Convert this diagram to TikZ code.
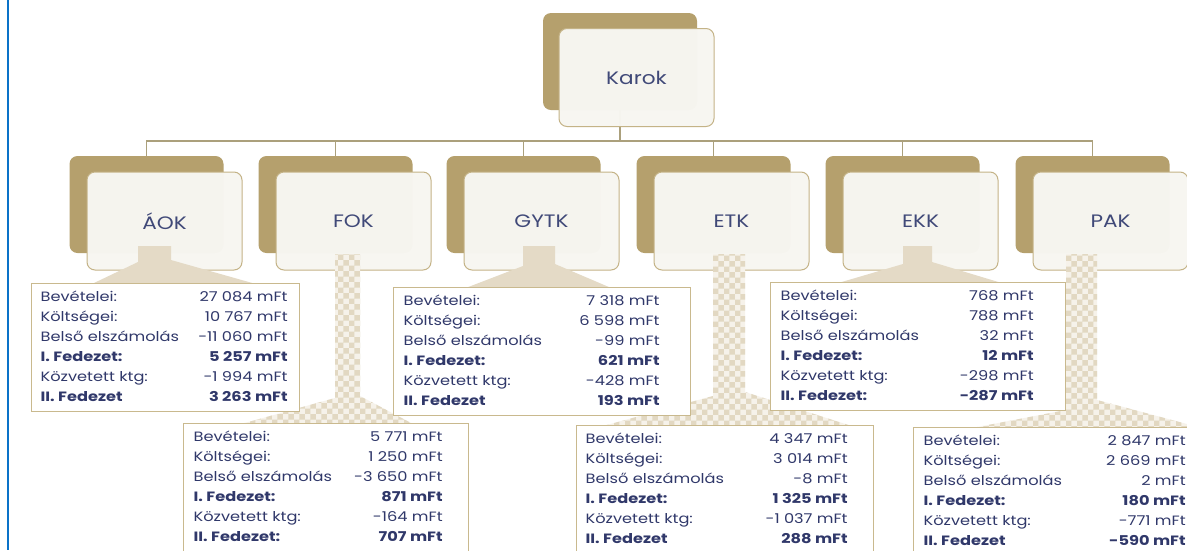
\documentclass[tikz,border=0pt]{standalone}
\usepackage{fontspec}
\setmainfont{Poppins}[FakeStretch=1.2]
\usetikzlibrary{patterns}
\definecolor{gold}{HTML}{B5A06D}
\definecolor{frontfill}{HTML}{F7F6F1}
\definecolor{frontline}{HTML}{C4B387}
\definecolor{busline}{HTML}{ABA07C}
\definecolor{callfill}{HTML}{E4DAC6}
\definecolor{chk}{HTML}{E2D8C2}
\definecolor{chkbase}{HTML}{F6F2EA}
\definecolor{boxline}{HTML}{C9B98E}
\definecolor{navy}{HTML}{30386A}
\definecolor{labnavy}{HTML}{404978}
\definecolor{leftblue}{HTML}{0A72C8}
\newcommand{\statrows}[8]{%
\begin{tabular*}{#1}{@{}l@{\extracolsep{\fill}}r@{}}
Bevételei: & #2\\
Költségei: & #3\\
Belső elszámolás & #4\\
\textbf{I. Fedezet:} & \textbf{#5}\\
Közvetett ktg: & #6\\
\textbf{#7} & \textbf{#8}
\end{tabular*}}
\tikzset{
  darkbox/.style={fill=gold, rounded corners=8pt, minimum width=154pt, minimum height=97pt, inner sep=0pt},
  frontbox/.style={fill=frontfill, fill opacity=0.98, text opacity=1, draw=frontline, line width=1pt,
    rounded corners=8pt, minimum width=155pt, minimum height=98pt, inner sep=0pt,
    text=labnavy, font=\fontsize{18}{22}\selectfont},
  busconn/.style={draw=busline, line width=1.3pt},
  callsolid/.style={fill=callfill},
  callchk/.style={preaction={fill=chkbase}, pattern=checkerboard, pattern color=chk},
  statbox/.style={draw=boxline, line width=1.3pt, fill=white, anchor=north west,
    inner xsep=0pt, inner ysep=4pt, text=navy, font=\fontsize{13.5}{20}\selectfont},
}
\begin{document}
\begin{tikzpicture}[x=1pt,y=-1pt]
\useasboundingbox (0,0) rectangle (1187,550);
\fill[white] (0,0) rectangle (1187,550);
\draw[leftblue, line width=2pt] (8,0) -- (8,550);

% bus coordinate
\coordinate (busy) at (0,141);

% dark boxes
\node[darkbox] (karokD) at (620,61.5) {};
\node[darkbox] (aokD)  at (146.5,204.5) {};
\node[darkbox] (fokD)  at (335.5,204.5) {};
\node[darkbox] (gytkD) at (523.5,204.5) {};
\node[darkbox] (etkD)  at (713.5,204.5) {};
\node[darkbox] (ekkD)  at (902.5,204.5) {};
\node[darkbox] (pakD)  at (1092.5,204.5) {};

% connectors
\foreach \f in {aokD,fokD,gytkD,etkD,ekkD,pakD}
  \draw[busconn] (karokD.south) -- (karokD.south |- busy) -| (\f.north);

% front boxes
\node[frontbox] (karok) at (636.5,77.5) {Karok};
\node[frontbox] (aok)  at (164.5,221) {ÁOK};
\node[frontbox] (fok)  at (353.5,221) {FOK};
\node[frontbox] (gytk) at (541.5,221) {GYTK};
\node[frontbox] (etk)  at (731.5,221) {ETK};
\node[frontbox] (ekk)  at (920.5,221) {EKK};
\node[frontbox] (pak)  at (1110.5,221) {PAK};

% callouts
\fill[callsolid] (138,246) -- (171,246) -- (171,260) -- (254,283.5) -- (93,283.5) -- (138,262) -- cycle;
\fill[callsolid] (523,246) -- (555,246) -- (555,264) -- (610,287.5) -- (467,287.5) -- (523,266) -- cycle;
\fill[callsolid] (903,246) -- (932,246) -- (932,262) -- (1000,282.5) -- (840,282.5) -- (903,264) -- cycle;
\path[callchk] (335,254) -- (360,254) -- (360,396) -- (412,423.5) -- (243,423.5) -- (335,398) -- cycle;
\path[callchk] (713,254) -- (745,254) -- (745,392) -- (850,425.5) -- (605,425.5) -- (713,396) -- cycle;
\path[callchk] (1066,254) -- (1097,254) -- (1097,400) -- (1200,427.5) -- (975,427.5) -- (1066,410) -- cycle;

% stat boxes
\node[statbox] (aokT) at (31,283) {\hspace*{9pt}\statrows{247pt}{27 084 mFt}{10 767 mFt}{-11 060 mFt}{5 257 mFt}{-1 994 mFt}{II. Fedezet}{3 263 mFt}\hspace*{12pt}};
\node[statbox] (gytkT) at (393,287) {\hspace*{10pt}\statrows{256pt}{7 318 mFt}{6 598 mFt}{-99 mFt}{621 mFt}{-428 mFt}{II. Fedezet}{193 mFt}\hspace*{31pt}};
\node[statbox] (ekkT) at (770,282) {\hspace*{10pt}\statrows{253pt}{768 mFt}{788 mFt}{32 mFt}{12 mFt}{-298 mFt}{II. Fedezet:}{-287 mFt}\hspace*{32pt}};
\node[statbox] (fokT) at (183,423) {\hspace*{10pt}\statrows{249pt}{5 771 mFt}{1 250 mFt}{-3 650 mFt}{871 mFt}{-164 mFt}{II. Fedezet:}{707 mFt}\hspace*{26pt}};
\node[statbox] (etkT) at (576,425) {\hspace*{9pt}\statrows{262pt}{4 347 mFt}{3 014 mFt}{-8 mFt}{1 325 mFt}{-1 037 mFt}{II. Fedezet}{288 mFt}\hspace*{26pt}};
\node[statbox] (pakT) at (913,427) {\hspace*{10pt}\statrows{262pt}{2 847 mFt}{2 669 mFt}{2 mFt}{180 mFt}{-771 mFt}{II. Fedezet}{-590 mFt}\hspace*{18pt}};
\end{tikzpicture}
\end{document}
